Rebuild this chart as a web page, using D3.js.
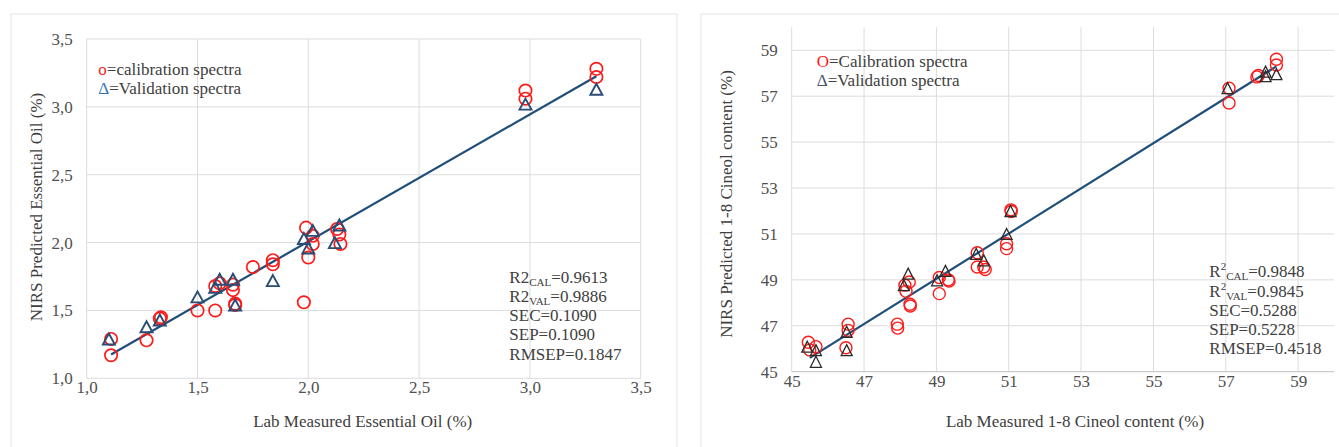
<!DOCTYPE html>
<html>
<head>
<meta charset="utf-8">
<script src="https://cdn.jsdelivr.net/npm/d3@7"></script>
<style>
  body { margin: 0; background: #fff; }
  svg text { font-family: "Liberation Serif", "Times New Roman", "DejaVu Serif", serif; }
</style>
</head>
<body>
<svg width="1339" height="447"></svg>
<script>
// ---- left chart: essential oil ----
var oilCalX = [1.11, 1.11, 1.27, 1.33, 1.335, 1.50, 1.58, 1.58, 1.60, 1.66, 1.66, 1.67, 1.67, 1.75, 1.84, 1.84, 1.98, 1.99, 2.00, 2.02, 2.02, 2.13, 2.14, 2.145, 2.98, 2.98, 3.30, 3.30];
var oilCalY = [1.29, 1.17, 1.28, 1.44, 1.45, 1.50, 1.50, 1.68, 1.70, 1.69, 1.65, 1.55, 1.54, 1.82, 1.87, 1.84, 1.56, 2.11, 1.89, 1.99, 2.05, 2.10, 2.06, 1.99, 3.12, 3.06, 3.28, 3.22];
var oilValX = [1.10, 1.27, 1.33, 1.50, 1.58, 1.60, 1.66, 1.67, 1.84, 1.98, 2.00, 2.02, 2.12, 2.14, 2.98, 3.30];
var oilValY = [1.29, 1.38, 1.43, 1.60, 1.67, 1.73, 1.73, 1.54, 1.72, 2.03, 1.96, 2.09, 2.00, 2.13, 3.02, 3.13];
var oilFitX = [1.11, 3.30];
var oilFitY = [1.175, 3.225];
var oilTicks = [1.0, 1.5, 2.0, 2.5, 3.0, 3.5];
var oilStats = [['R2', 'CAL', '=0.9613'], ['R2', 'VAL', '=0.9886'], ['SEC', '', '=0.1090'], ['SEP', '', '=0.1090'], ['RMSEP', '', '=0.1847']];

// ---- right chart: 1-8 cineol ----
var cinCalX = [45.46, 45.50, 45.67, 46.56, 46.56, 46.50, 47.92, 47.93, 48.13, 48.16, 48.25, 48.27, 48.28, 49.08, 49.08, 49.33, 49.35, 50.13, 50.13, 50.31, 50.35, 50.94, 50.94, 51.06, 51.07, 57.09, 57.09, 57.86, 57.90, 58.40, 58.40];
var cinCalY = [46.28, 45.95, 46.09, 47.07, 46.80, 46.04, 47.07, 46.90, 48.77, 48.50, 48.91, 47.94, 47.86, 49.10, 48.40, 49.00, 48.95, 50.18, 49.56, 49.56, 49.45, 50.36, 50.57, 52.05, 51.98, 57.35, 56.70, 57.84, 57.90, 58.61, 58.36];
var cinValX = [45.43, 45.67, 45.67, 46.52, 46.52, 48.10, 48.22, 49.02, 49.25, 50.10, 50.31, 50.94, 51.05, 57.05, 58.10, 58.10, 58.40];
var cinValY = [46.09, 45.94, 45.43, 46.74, 45.94, 48.77, 49.27, 48.98, 49.39, 50.13, 49.85, 51.00, 52.00, 57.35, 58.07, 57.87, 57.96];
var cinFitX = [45.5, 58.4];
var cinFitY = [45.6, 58.3];
var cinTicks = [45, 47, 49, 51, 53, 55, 57, 59];
var cinStats = [['R', 'CAL', '=0.9848', true], ['R', 'VAL', '=0.9845', true], ['SEC', '', '=0.5288'], ['SEP', '', '=0.5228'], ['RMSEP', '', '=0.4518']];

var svg = d3.select('svg');
var serif = '"Liberation Serif", "Times New Roman", "DejaVu Serif", serif';
var textColor = '#404040';
var gridColor = '#dcdcdc';

function zip(xs, ys){
	return xs.map(function(x, i){ return [x, ys[i]]; });
}

function drawChart(c){
	// panel frame
	svg.append('rect')
		.attr('x', c.panel[0]).attr('y', c.panel[1])
		.attr('width', c.panel[2]).attr('height', c.panel[3])
		.attr('fill', '#fff').attr('stroke', '#e3e3e3');

	var x = d3.scaleLinear().domain(c.xDomain).range([c.left, c.right]);
	var y = d3.scaleLinear().domain(c.yDomain).range([c.bottom, c.top]);
	var g = svg.append('g').attr('font-family', serif);

	// gridlines
	g.append('g').selectAll('line').data(c.ticks).enter().append('line')
		.attr('x1', function(d){ return x(d); }).attr('x2', function(d){ return x(d); })
		.attr('y1', c.top).attr('y2', c.bottom)
		.attr('stroke', gridColor).attr('stroke-width', 1);
	g.append('g').selectAll('line').data(c.ticks).enter().append('line')
		.attr('x1', c.left).attr('x2', c.right)
		.attr('y1', function(d){ return y(d); }).attr('y2', function(d){ return y(d); })
		.attr('stroke', function(d){ return d === c.yDomain[0] ? c.axisColor : gridColor; })
		.attr('stroke-width', 1);

	// axes (labels only)
	var fmt = function(d){ return c.comma ? d3.format('.1f')(d).replace('.', ',') : d; };
	var xAxis = g.append('g').attr('transform', 'translate(0,' + c.bottom + ')')
		.call(d3.axisBottom(x).tickValues(c.ticks).tickSize(0).tickFormat(fmt));
	var yAxis = g.append('g').attr('transform', 'translate(' + c.left + ',0)')
		.call(d3.axisLeft(y).tickValues(c.ticks).tickSize(0).tickFormat(fmt));
	[xAxis, yAxis].forEach(function(a){
		a.attr('font-family', serif).attr('font-size', 17);
		a.select('.domain').remove();
		a.selectAll('text').attr('fill', '#505050');
	});
	xAxis.selectAll('text').attr('dy', null).attr('y', c.xLabelOffset);
	yAxis.selectAll('text').attr('dy', '0.32em').attr('x', -c.yLabelOffset);

	// fitted line
	g.append('line')
		.attr('x1', x(c.fitX[0])).attr('y1', y(c.fitY[0]))
		.attr('x2', x(c.fitX[1])).attr('y2', y(c.fitY[1]))
		.attr('stroke', '#1f4e79').attr('stroke-width', 2.2);

	// calibration circles
	g.append('g').selectAll('circle').data(zip(c.calX, c.calY)).enter().append('circle')
		.attr('cx', function(d){ return x(d[0]); })
		.attr('cy', function(d){ return y(d[1]); })
		.attr('r', c.circleR)
		.attr('fill', 'none').attr('stroke', '#ff1a1a').attr('stroke-width', c.circleW);

	// validation triangles
	var tw = c.triW, th = c.triH;
	g.append('g').selectAll('path').data(zip(c.valX, c.valY)).enter().append('path')
		.attr('d', function(d){
			var px = x(d[0]), py = y(d[1]);
			return 'M' + px + ',' + (py - th / 2) + 'L' + (px + tw / 2) + ',' + (py + th / 2) +
				'L' + (px - tw / 2) + ',' + (py + th / 2) + 'Z';
		})
		.attr('fill', 'none').attr('stroke', c.triColor).attr('stroke-width', c.triStroke);

	// legend
	var leg = g.append('g').attr('font-size', 17).attr('fill', textColor);
	var l1 = leg.append('text').attr('x', c.legend[0]).attr('y', c.legend[1]);
	l1.append('tspan').attr('fill', '#ff1a1a').text(c.legendMark);
	l1.append('tspan').text('=' + c.calLabel);
	var l2 = leg.append('text').attr('x', c.legend[0]).attr('y', c.legend[1] + 19);
	l2.append('tspan').attr('fill', c.deltaColor).text('\u0394');
	l2.append('tspan').text('=Validation spectra');

	// statistics box
	var st = g.append('g').attr('font-size', 17).attr('fill', textColor);
	c.stats.forEach(function(s, i){
		var t = st.append('text').attr('x', c.statsPos[0]).attr('y', c.statsPos[1] + i * 19.2);
		t.append('tspan').text(s[0]);
		if (s[3]) t.append('tspan').attr('font-size', 11).attr('dy', -7).text('2');
		if (s[1]) {
			t.append('tspan').attr('font-size', 11).attr('dy', s[3] ? 10 : 3).text(s[1]);
			t.append('tspan').attr('dy', -3).text(s[2]);
		} else {
			t.append('tspan').text(s[2]);
		}
	});

	// axis titles
	g.append('text').attr('x', (c.left + c.right) / 2 + c.xTitleShift).attr('y', c.xTitleY)
		.attr('text-anchor', 'middle').attr('font-size', 17).attr('fill', textColor)
		.text(c.xTitle);
	g.append('text')
		.attr('transform', 'translate(' + c.yTitleX + ',' + c.yTitleY + ') rotate(-90)')
		.attr('text-anchor', 'middle').attr('font-size', 17).attr('fill', textColor)
		.text(c.yTitle);
}

drawChart({
	panel: [11, 14, 666, 450],
	xDomain: [1.0, 3.5], yDomain: [1.0, 3.5],
	left: 86.7, right: 640.7, top: 39, bottom: 378.3,
	ticks: oilTicks, comma: true, axisColor: gridColor,
	xLabelOffset: 14.5, yLabelOffset: 14,
	calX: oilCalX, calY: oilCalY, valX: oilValX, valY: oilValY,
	fitX: oilFitX, fitY: oilFitY,
	circleR: 6.2, circleW: 1.7, triW: 12, triH: 11, triColor: '#2a4d75', triStroke: 1.9,
	legend: [98.3, 75], legendMark: 'o', calLabel: 'calibration spectra', deltaColor: '#2e75b6',
	stats: oilStats, statsPos: [509.3, 282.7],
	xTitle: 'Lab Measured Essential Oil (%)', xTitleShift: -1, xTitleY: 427,
	yTitle: 'NIRS Predicted Essential Oil (%)', yTitleX: 42, yTitleY: 207
});

drawChart({
	panel: [701, 14, 660, 450],
	xDomain: [45, 60], yDomain: [45, 60],
	left: 791.7, right: 1334.3, top: 27.3, bottom: 371.7,
	ticks: cinTicks, comma: false, axisColor: '#bfbfbf',
	xLabelOffset: 15, yLabelOffset: 14,
	calX: cinCalX, calY: cinCalY, valX: cinValX, valY: cinValY,
	fitX: cinFitX, fitY: cinFitY,
	circleR: 6, circleW: 1.4, triW: 11, triH: 11, triColor: '#2b2b2b', triStroke: 1.3,
	legend: [816.7, 66.7], legendMark: 'O', calLabel: 'Calibration spectra', deltaColor: '#44546a',
	stats: cinStats, statsPos: [1209.3, 277.3],
	xTitle: 'Lab Measured 1-8 Cineol content (%)', xTitleShift: 12, xTitleY: 427,
	yTitle: 'NIRS Predicted 1-8 Cineol content (%)', yTitleX: 732, yTitleY: 204
});
</script>
</body>
</html>
